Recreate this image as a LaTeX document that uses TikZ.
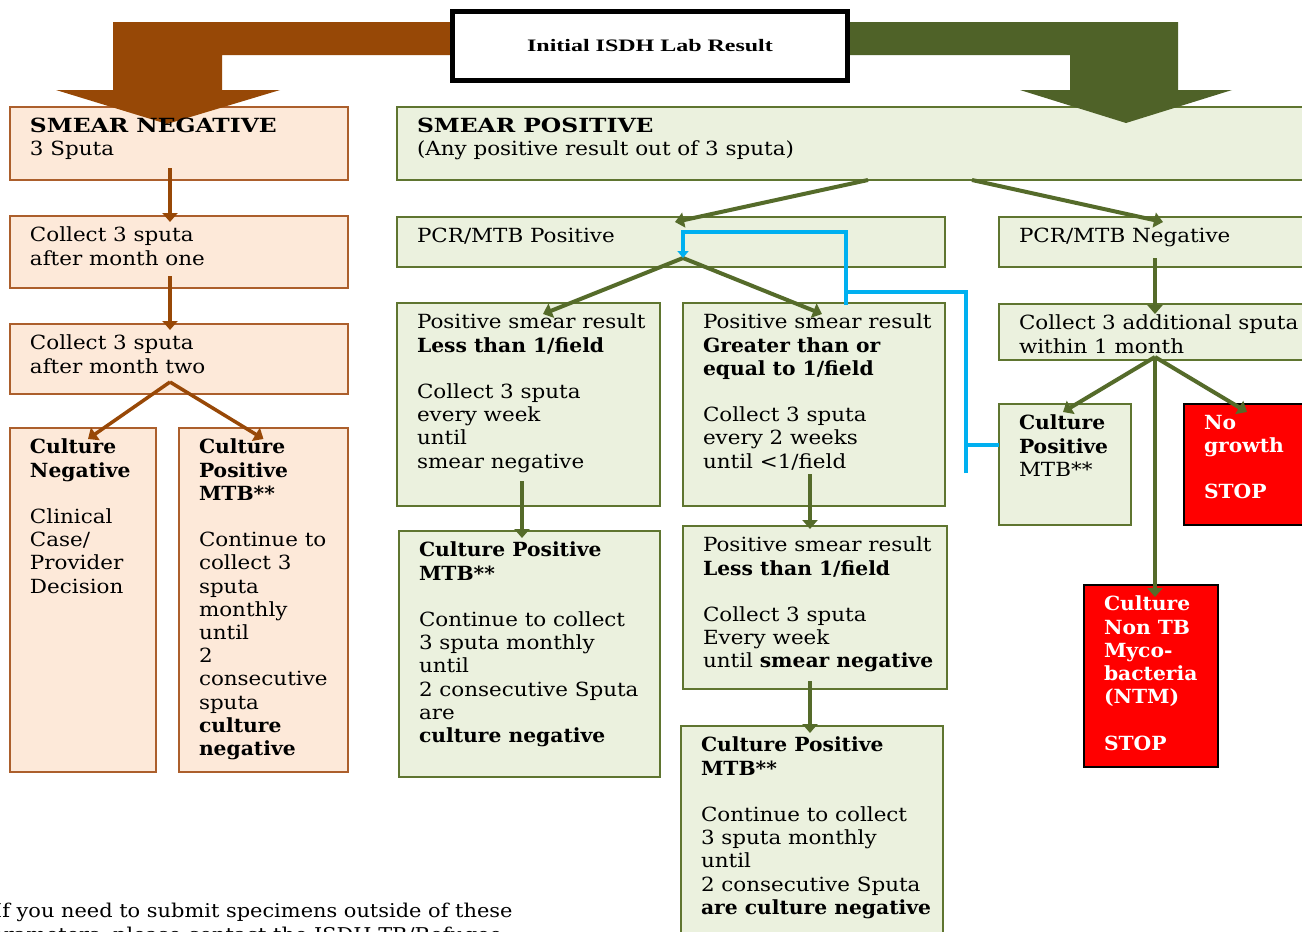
\documentclass[tikz,border=0pt]{standalone}
\usepackage{fontspec}
\setmainfont{DejaVu Serif}[FakeStretch=1.1, BoldFeatures={FakeStretch=1.04}]
\newfontfamily\capsfont{DejaVu Serif}[FakeStretch=1.2]
\newfontfamily\titlefont[FakeStretch=1.37]{Liberation Serif}
\usetikzlibrary{arrows.meta}
\definecolor{bfill}{HTML}{FDE9D9}
\definecolor{bline}{HTML}{AC5F2C}
\definecolor{barrow}{HTML}{974806}
\definecolor{bcon}{HTML}{984807}
\definecolor{gfill}{HTML}{EBF1DE}
\definecolor{gline}{HTML}{5F7530}
\definecolor{garrow}{HTML}{4F6228}
\definecolor{gcon}{HTML}{556B2A}
\definecolor{bluec}{HTML}{00B0F0}
\definecolor{redbox}{HTML}{FF0000}
\pgfdeclarelayer{bg}
\pgfdeclarelayer{mid}
\pgfsetlayers{bg,mid,main}
\newcommand\mybox[8]{% name, box style, text style, x, y, w, h, text
  \begin{pgfonlayer}{bg}
  \node[#2, minimum width=#6pt, minimum height=#7pt] (#1) at (#4,#5) {};
  \end{pgfonlayer}
  \node[txt, #3] (#1-t) at ([xshift=20pt,yshift=-11pt]#1.north west) {#8};
}
\begin{document}
\begin{tikzpicture}[x=1pt,y=-1pt,
  boxbase/.style={anchor=north west, inner sep=0pt, outer sep=0pt, line width=2.2pt},
  bbox/.style={boxbase, draw=bline, fill=bfill},
  gbox/.style={boxbase, draw=gline, fill=gfill},
  rbox/.style={boxbase, draw=black, fill=redbox},
  txt/.style={inner sep=0pt, outer sep=0pt, align=left, anchor=north west, text=black,
     font=\fontsize{19.5}{23.2}\selectfont},
  rtxt/.style={text=white, font=\fontsize{19.5}{23.2}\selectfont\bfseries},
  ntxt/.style={},
  bconn/.style={draw=bcon, line width=3.5pt, -{Triangle[length=9pt,width=15pt]}},
  gconn/.style={draw=gcon, line width=4pt, -{Triangle[length=9pt,width=15pt]}},
  bl/.style={draw=bluec, line width=4pt},
]
\useasboundingbox (0,0) rectangle (1302,932);
\begin{pgfonlayer}{bg}
\fill[white] (0,0) rectangle (1302,932);
\end{pgfonlayer}

% left column
\mybox{sneg}{bbox}{ntxt}{10}{107}{338}{73}{{\capsfont\bfseries SMEAR NEGATIVE}\\3 Sputa}
\mybox{c1}{bbox}{ntxt}{10}{216}{338}{72}{Collect 3 sputa\\after month one}
\mybox{c2}{bbox}{ntxt}{10}{324}{338}{70}{Collect 3 sputa\\after month two}
\mybox{cneg}{bbox}{ntxt}{10}{428}{146}{344}{\textbf{Culture}\\\textbf{Negative}\\[23.2pt]Clinical\\Case/\\Provider\\Decision}
\mybox{cpos}{bbox}{ntxt}{179}{428}{169}{344}{\textbf{Culture}\\\textbf{Positive}\\\textbf{MTB**}\\[23.2pt]Continue to\\collect 3\\sputa\\monthly\\until\\2\\consecutive\\sputa\\\textbf{culture}\\\textbf{negative}}

% center and right
\mybox{spos}{gbox}{ntxt}{397}{107}{913}{73}{{\capsfont\bfseries SMEAR POSITIVE}\\(Any positive result out of 3 sputa)}
\mybox{pcrp}{gbox}{ntxt}{397}{217}{548}{50}{PCR/MTB Positive}
\mybox{pcrn}{gbox}{ntxt}{999}{217}{311}{50}{PCR/MTB Negative}
\mybox{lt1}{gbox}{ntxt}{397}{303}{263}{203}{Positive smear result\\\textbf{Less than 1/field}\\[23.2pt]Collect 3 sputa\\every week\\until\\smear negative}
\mybox{gt1}{gbox}{ntxt}{683}{303}{262}{203}{Positive smear result\\\textbf{Greater than or}\\\textbf{equal to 1/field}\\[23.2pt]Collect 3 sputa\\every 2 weeks\\until <1/field}
\mybox{add}{gbox}{ntxt}{999}{304}{311}{56}{Collect 3 additional sputa\\within 1 month}
\mybox{cpsm}{gbox}{ntxt}{999}{404}{132}{121}{\textbf{Culture}\\\textbf{Positive}\\MTB**}
\mybox{nog}{rbox}{rtxt}{1184}{404}{126}{121}{No\\growth\\[23.2pt]STOP}
\mybox{cp1}{gbox}{ntxt}{399}{531}{261}{246}{\textbf{Culture Positive}\\\textbf{MTB**}\\[23.2pt]Continue to collect\\3 sputa monthly\\until\\2 consecutive Sputa\\are\\\textbf{culture negative}}
\mybox{lt2}{gbox}{ntxt}{683}{526}{264}{163}{Positive smear result\\\textbf{Less than 1/field}\\[23.2pt]Collect 3 sputa\\Every week\\until \textbf{smear negative}}
\mybox{cp2}{gbox}{ntxt}{681}{726}{262}{220}{\textbf{Culture Positive}\\\textbf{MTB**}\\[23.2pt]Continue to collect\\3 sputa monthly\\until\\2 consecutive Sputa\\\textbf{are culture negative}}
\mybox{ntm}{rbox}{rtxt}{1084}{585}{134}{182}{Culture\\Non TB\\Myco-\\bacteria\\(NTM)\\[23.2pt]STOP}

% big arrows
\begin{pgfonlayer}{mid}
\fill[barrow] (470,22) -- (113,22) -- (113,90) -- (56,90) -- (167,124) -- (280,90) -- (222,90) -- (222,55) -- (470,55) -- cycle;
\fill[garrow] (825,22) -- (1178,22) -- (1178,90) -- (1232,90) -- (1126,123) -- (1020,90) -- (1070,90) -- (1070,55) -- (825,55) -- cycle;
\end{pgfonlayer}

% title
\node[anchor=north west, draw=black, fill=white, line width=5pt, minimum width=395pt, minimum height=69pt, inner sep=0pt,
      font=\titlefont\fontsize{17.5}{20}\selectfont\bfseries] (title) at (450,8.5) {Initial ISDH Lab Result};

% brown connectors
\coordinate (a1) at ([xshift=-9pt,yshift=12pt]c2.south);
\draw[bconn] ([xshift=-9pt,yshift=12pt]sneg.south) -- ([xshift=-9pt,yshift=-6pt]c1.north);
\draw[bconn] ([xshift=-9pt,yshift=12pt]c1.south) -- ([xshift=-9pt,yshift=-6pt]c2.north);
\draw[bconn] (a1) -- ([xshift=5pt,yshift=-11pt]cneg.north);
\draw[bconn] (a1) -- ([yshift=-11pt]cpos.north);

% green connectors
\draw[gconn] ([xshift=14.5pt]spos.south) -- ([xshift=4pt,yshift=-5pt]pcrp.north);
\draw[gconn] ([xshift=118.5pt]spos.south) -- ([xshift=8.5pt,yshift=-5pt]pcrn.north);
\coordinate (pap) at ([xshift=12pt,yshift=9pt]pcrp.south);
\draw[gconn] (pap) -- ([xshift=14.5pt,yshift=-11pt]lt1.north);
\draw[gconn] (pap) -- ([xshift=8pt,yshift=-11pt]gt1.north);
\draw[gconn] ([xshift=0.5pt,yshift=9pt]pcrn.south) -- ([xshift=0.5pt,yshift=-10pt]add.north);
\coordinate (aap) at ([xshift=0.5pt,yshift=3pt]add.south);
\draw[gconn] (aap) -- ([xshift=-2pt,yshift=-8pt]cpsm.north);
\draw[gconn] (aap) -- ([yshift=-8pt]nog.north);
\draw[gconn] (aap) -- ([xshift=4pt,yshift=-12pt]ntm.north);
\draw[gconn] ([xshift=-6.5pt,yshift=25pt]lt1.south) -- ([xshift=-7.5pt,yshift=-7pt]cp1.north);
\draw[gconn] ([xshift=-4pt,yshift=32pt]gt1.south) -- ([xshift=-5pt,yshift=-3pt]lt2.north);
\draw[gconn] ([xshift=-5pt,yshift=8pt]lt2.south) -- ([xshift=-2pt,yshift=-7pt]cp2.north);

% blue connector
\coordinate (bq1) at (966,473);
\draw[bl] ([yshift=19.5pt]cpsm.west) -- ++(-35,0);
\draw[bl] (bq1) |- ([xshift=32pt,yshift=11pt]gt1.north);
\draw[bl, -{Triangle[length=7pt,width=11pt]}] ([xshift=32pt,yshift=-2pt]gt1.north) |- ([yshift=26pt]pap) -- (pap);

% footnote (cropped by the picture edge)
\node[txt, anchor=base west, font=\fontsize{19}{23}\selectfont] (note1) at (-6,917) {If you need to submit specimens outside of these};
\node[txt, anchor=base west, font=\fontsize{19}{23}\selectfont] (note2) at (-22,941) {parameters, please contact the ISDH TB/Refugee};
\end{tikzpicture}
\end{document}
